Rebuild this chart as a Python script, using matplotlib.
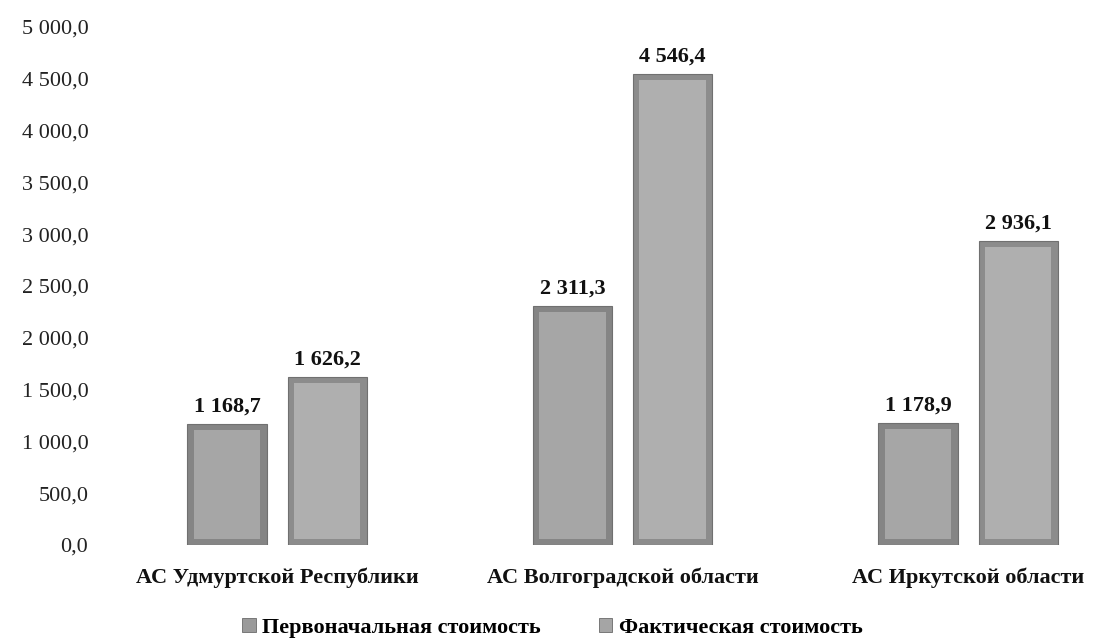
import matplotlib
matplotlib.use("Agg")
import matplotlib.pyplot as plt
import numpy as np
from matplotlib.patches import Patch

categories = ["АС Удмуртской Республики", "АС Волгоградской области", "АС Иркутской области"]
series_names = ["Первоначальная стоимость", "Фактическая стоимость"]
initial_cost = [1168.7, 2311.3, 1178.9]
actual_cost = [1626.2, 4546.4, 2936.1]
y_ticks = [0, 500, 1000, 1500, 2000, 2500, 3000, 3500, 4000, 4500, 5000]

plt.rcParams['font.family'] = ['Liberation Serif', 'DejaVu Serif']

W, H = 1096, 641
fig = plt.figure(figsize=(W / 100, H / 100), dpi=100)
ax_left, ax_right = 105 / W, 1096 / W
ax_bottom, ax_top = (H - 545) / H, (H - 27) / H
ax = fig.add_axes([ax_left, ax_bottom, ax_right - ax_left, ax_top - ax_bottom])

x = np.arange(len(categories))
width = 0.229
offset = 0.145
outer_colors = ["#858585", "#8c8c8c"]
inner_colors = ["#a6a6a6", "#afafaf"]

for i, (vals, oc, ic) in enumerate(zip([initial_cost, actual_cost], outer_colors, inner_colors)):
    pos = x + (offset if i == 1 else -offset)
    vals = np.array(vals)
    ax.bar(pos, vals, width=width, color=oc, edgecolor="#707070", linewidth=0.8, zorder=2)
    ax.bar(pos, vals - 120, bottom=60, width=width * 0.84, color=ic, linewidth=0, zorder=3)
    for p, v in zip(pos, vals):
        s = f"{v:,.1f}".replace(",", " ").replace(".", ",")
        ax.text(p, v + 70, s, ha="center", va="bottom", fontsize=16, fontweight="bold", color="#111111")

ax.set_xlim(-0.498, 2.37)
ax.set_ylim(0, 5000)
ax.set_yticks(y_ticks)
ax.set_yticklabels([f"{t:,.1f}".replace(",", " ").replace(".", ",") for t in y_ticks], fontsize=16, color="#222222")
ax.set_xticks(x)
ax.set_xticklabels(categories, fontsize=16, fontweight="bold", color="#111111")
ax.tick_params(axis="both", length=0)
ax.tick_params(axis="y", pad=12)
ax.tick_params(axis="x", pad=16)
for sp in ax.spines.values():
    sp.set_visible(False)

handles = [Patch(facecolor=c, edgecolor="#6a6a6a", linewidth=0.6) for c in ["#9a9a9a", "#a5a5a5"]]
leg = fig.legend(handles, series_names, loc="center", bbox_to_anchor=(0.504, (H - 628) / H), ncol=2,
                 frameon=False, prop={"weight": "bold", "size": 16}, handlelength=0.6, handleheight=0.6,
                 handletextpad=0.3, columnspacing=2.6)

fig.savefig("out.png", dpi=100, facecolor="white")
